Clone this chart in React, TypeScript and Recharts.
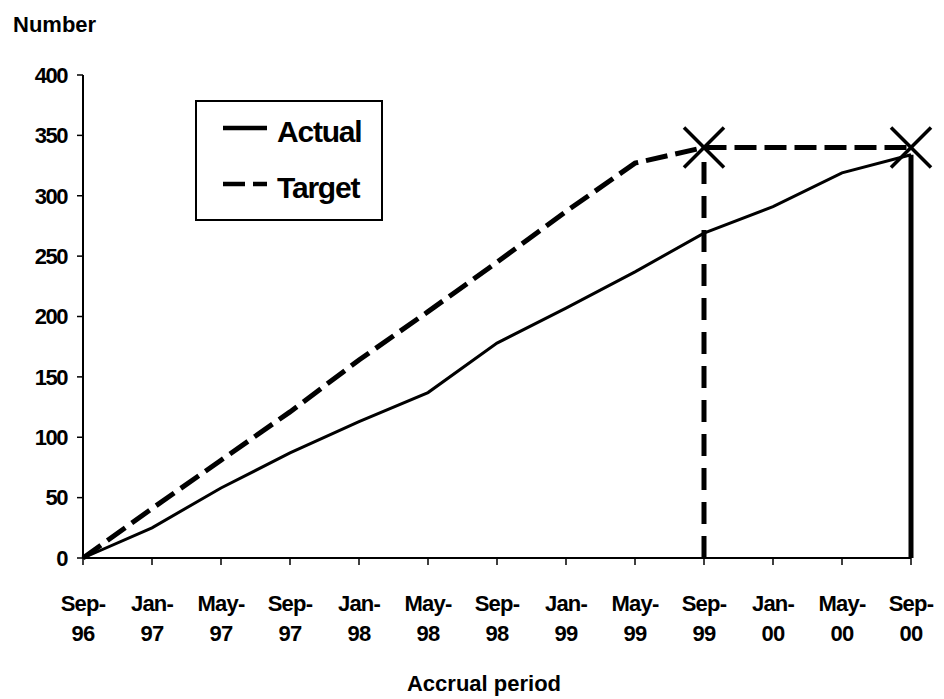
import React from "react";
import {
  LineChart,
  Line,
  XAxis,
  YAxis,
  Legend,
  ReferenceLine,
} from "recharts";

// accrual periods, four months apart
const periods = [
  "Sep-96", "Jan-97", "May-97", "Sep-97", "Jan-98", "May-98", "Sep-98",
  "Jan-99", "May-99", "Sep-99", "Jan-00", "May-00", "Sep-00",
];
const actual = [0, 25, 58, 87, 113, 137, 178, 207, 237, 269, 291, 319, 334];
const target = [0, 41, 81, 121, 164, 204, 245, 287, 327, 340, 340, 340, 340];
const targetMarkers = ["Sep-99", "Sep-00"];
const yTicks = [0, 50, 100, 150, 200, 250, 300, 350, 400];

const data = periods.map((p, i) => ({ period: p, actual: actual[i], target: target[i] }));

const FONT = "'Liberation Sans', Arial, sans-serif";
const TARGET_DASH = "22 8";

function PeriodTick({ x, y, payload }: any) {
  const [mon, yr] = String(payload.value).split("-");
  return (
    <text
      x={x}
      y={y}
      textAnchor="middle"
      fontFamily={FONT}
      fontSize={22}
      fontWeight="bold"
      letterSpacing={-0.8}
      fill="#000"
    >
      <tspan x={x} dy={44}>{mon}-</tspan>
      <tspan x={x} dy={30}>{yr}</tspan>
    </text>
  );
}

function CrossDot({ cx, cy, payload }: any) {
  if (!targetMarkers.includes(payload?.period)) return <g />;
  const r = 20;
  return (
    <g stroke="#000" strokeWidth={3.5}>
      <line x1={cx - r} y1={cy - r} x2={cx + r} y2={cy + r} />
      <line x1={cx - r} y1={cy + r} x2={cx + r} y2={cy - r} />
    </g>
  );
}

function LegendBox({ payload }: any) {
  const items = payload || [];
  return (
    <svg width={188} height={121} style={{ display: "block" }}>
      <rect x={1} y={1} width={186} height={119} fill="#fff" stroke="#000" strokeWidth={2} />
      {items.map((it: any, i: number) => {
        const ly = i === 0 ? 28 : 84;
        const dashed = it.dataKey === "target";
        return (
          <g key={it.value}>
            <line
              x1={28}
              x2={72}
              y1={ly}
              y2={ly}
              stroke="#000"
              strokeWidth={4.5}
              strokeDasharray={dashed ? TARGET_DASH : undefined}
            />
            <text
              x={82}
              y={ly + 14}
              fontFamily={FONT}
              fontSize={30}
              fontWeight="bold"
              letterSpacing={-1.2}
              fill="#000"
            >
              {it.value}
            </text>
          </g>
        );
      })}
    </svg>
  );
}

export default function App() {
  const lastIdx = periods.length - 1;
  const markIdx = periods.indexOf(targetMarkers[0]);
  return (
    <div style={{ position: "absolute", left: 0, top: 0, width: 944, height: 699, background: "#fff" }}>
      <div
        style={{
          position: "absolute", left: 13, top: 14, fontFamily: FONT, fontSize: 22,
          fontWeight: "bold", lineHeight: "22px", color: "#000",
        }}
      >
        Number
      </div>
      <LineChart width={944} height={699} data={data} margin={{ top: 75, right: 33, left: 0, bottom: 81 }}>
        <XAxis
          dataKey="period"
          height={60}
          interval={0}
          tick={<PeriodTick />}
          axisLine={{ stroke: "#000", strokeWidth: 2 }}
          tickLine={{ stroke: "#000", strokeWidth: 1.5 }}
          tickSize={7}
        />
        <YAxis
          width={83}
          domain={[0, 400]}
          ticks={yTicks}
          interval={0}
          tickMargin={10}
          tick={{ fill: "#000", fontSize: 22, fontWeight: "bold", fontFamily: FONT, letterSpacing: -1.5 }}
          axisLine={{ stroke: "#000", strokeWidth: 2 }}
          tickLine={{ stroke: "#000", strokeWidth: 1.5 }}
        />
        <Legend
          layout="vertical"
          align="center"
          verticalAlign="middle"
          content={<LegendBox />}
          wrapperStyle={{ position: "absolute", left: 195, top: 100, width: 188, height: 121 }}
        />
        <ReferenceLine
          segment={[{ x: periods[markIdx], y: 0 }, { x: periods[markIdx], y: target[markIdx] }]}
          stroke="#000"
          strokeWidth={5}
          strokeDasharray="22 12"
        />
        <ReferenceLine
          segment={[{ x: periods[lastIdx], y: 0 }, { x: periods[lastIdx], y: actual[lastIdx] }]}
          stroke="#000"
          strokeWidth={5}
        />
        <Line
          name="Actual"
          dataKey="actual"
          type="linear"
          stroke="#000"
          strokeWidth={3}
          dot={false}
          isAnimationActive={false}
        />
        <Line
          name="Target"
          dataKey="target"
          type="linear"
          stroke="#000"
          strokeWidth={5}
          strokeDasharray={TARGET_DASH}
          dot={<CrossDot />}
          activeDot={false}
          isAnimationActive={false}
        />
      </LineChart>
      <div
        style={{
          position: "absolute", left: 384, width: 200, top: 672, textAlign: "center",
          fontFamily: FONT, fontSize: 22, fontWeight: "bold", lineHeight: "24px", color: "#000",
        }}
      >
        Accrual period
      </div>
    </div>
  );
}
